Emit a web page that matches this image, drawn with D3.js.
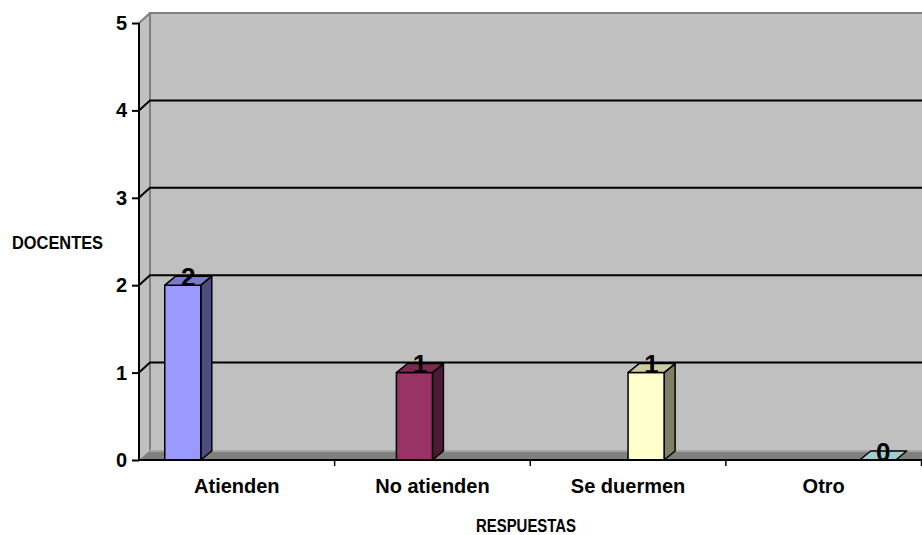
<!DOCTYPE html>
<html>
<head>
<meta charset="utf-8">
<script src="https://cdn.jsdelivr.net/npm/d3@7"></script>
<style>
  html, body { margin: 0; padding: 0; background: #ffffff; }
  svg { display: block; }
  text { font-family: "Liberation Sans", Arial, sans-serif; font-weight: bold; fill: #000; }
</style>
</head>
<body>
<svg id="chart" width="922" height="535"></svg>
<script>
const categories = ["Atienden", "No atienden", "Se duermen", "Otro"];
const values = [2, 1, 1, 0];
const yTicks = [0, 1, 2, 3, 4, 5];
const frontColors = ["#9999FF", "#993366", "#FFFFCC", "#CCFFFF"];
const sideColors = ["#4d4d80", "#4d1a33", "#808066", "#668080"];
const topColors = ["#7a7acc", "#7a2952", "#cccca3", "#a3cccc"];
const yTitle = "DOCENTES";
const xTitle = "RESPUESTAS";

const W = 922, H = 535;
const svg = d3.select("#chart");

const x0 = 139, x1 = 921.5, yBottom = 460, yTop = 23;
const DX = 11, DY = 10;      // wall depth
const bDX = 11, bDY = 9;     // bar depth

const y = d3.scaleLinear().domain([0, 5]).range([yBottom, yTop]);
const x = d3.scaleBand().domain(categories).range([x0, x1]).paddingInner(0).paddingOuter(0);
const xs = d3.scaleBand().domain(d3.range(categories.length)).range([0, x.bandwidth()])
  .paddingInner(0).paddingOuter(0.715);

// left side wall
svg.append("path")
  .attr("d", `M${x0},${yBottom} L${x0},${yTop} L${x0 + DX},${yTop - DY} L${x0 + DX},${yBottom - DY} Z`)
  .attr("fill", "#c0c0c0");
// back wall
svg.append("rect")
  .attr("x", x0 + DX).attr("y", yTop - DY)
  .attr("width", W - (x0 + DX) + 5).attr("height", yBottom - yTop)
  .attr("fill", "#c0c0c0");
// wall outline (gray)
svg.append("path")
  .attr("d", `M${x0},${yTop} L${x0 + DX},${yTop - DY} L${W + 5},${yTop - DY}`)
  .attr("fill", "none").attr("stroke", "#808080").attr("stroke-width", 2);
svg.append("line")
  .attr("x1", x0 + DX).attr("x2", x0 + DX)
  .attr("y1", yTop - DY).attr("y2", yBottom - DY)
  .attr("stroke", "#808080").attr("stroke-width", 2);

// gridlines (back wall + side wall diagonal)
yTicks.filter(t => t > 0 && t < 5).forEach(t => {
  const yy = y(t);
  svg.append("path")
    .attr("d", `M${x0},${yy} L${x0 + DX},${yy - DY} L${W + 5},${yy - DY}`)
    .attr("fill", "none").attr("stroke", "#000").attr("stroke-width", 2);
});

// floor
svg.append("path")
  .attr("d", `M${x0},${yBottom} L${x0 + DX},${yBottom - DY} L${W + 5},${yBottom - DY} L${W + 5},${yBottom} Z`)
  .attr("fill", "#808080");
svg.append("line")
  .attr("x1", x0 + DX).attr("x2", W + 5)
  .attr("y1", yBottom - DY + 1).attr("y2", yBottom - DY + 1)
  .attr("stroke", "#a6a6a6").attr("stroke-width", 2);

// bars
const bars = svg.append("g");
categories.forEach((c, i) => {
  const v = values[i];
  const bx = x(c) + xs(i);
  const bw = xs.bandwidth();
  const by = y(v);
  const b0 = y(0);
  const g = bars.append("g").attr("stroke", "#000").attr("stroke-width", 1.5).attr("stroke-linejoin", "round");
  if (v > 0) {
    g.append("path")
      .attr("d", `M${bx + bw},${b0} L${bx + bw},${by} L${bx + bw + bDX},${by - bDY} L${bx + bw + bDX},${b0 - bDY} Z`)
      .attr("fill", sideColors[i]);
    g.append("rect")
      .attr("x", bx).attr("y", by).attr("width", bw).attr("height", b0 - by)
      .attr("fill", frontColors[i]);
  }
  g.append("path")
    .attr("d", `M${bx},${by} L${bx + bDX},${by - bDY} L${bx + bw + bDX},${by - bDY} L${bx + bw},${by} Z`)
    .attr("fill", topColors[i]);
  // data label
  svg.append("text")
    .attr("x", bx + bw / 2 + bDX / 2)
    .attr("y", by + 0.5)
    .attr("text-anchor", "middle")
    .style("font-size", "26px")
    .text(v);
});

// axes lines
svg.append("line")
  .attr("x1", x0).attr("x2", x0).attr("y1", yTop).attr("y2", yBottom)
  .attr("stroke", "#000").attr("stroke-width", 2);
svg.append("line")
  .attr("x1", x0).attr("x2", W + 5).attr("y1", yBottom).attr("y2", yBottom)
  .attr("stroke", "#000").attr("stroke-width", 2);

// y axis ticks and labels
const yAxis = d3.axisLeft(y).tickValues(yTicks).tickSize(7).tickPadding(5).tickFormat(d3.format("d"));
const ya = svg.append("g").attr("transform", `translate(${x0},0)`).call(yAxis);
ya.select(".domain").remove();
ya.selectAll(".tick line").attr("stroke", "#000").attr("stroke-width", 2);
ya.selectAll(".tick text").style("font-size", "20px")
  .attr("font-family", null).attr("fill", "#000");

// x axis ticks (category boundaries) and labels
const xBounds = categories.map(c => x(c) + x.bandwidth());
svg.append("g").selectAll("line").data(xBounds).join("line")
  .attr("x1", d => d).attr("x2", d => d)
  .attr("y1", yBottom).attr("y2", yBottom + 6)
  .attr("stroke", "#000").attr("stroke-width", 1.5);
svg.append("g").selectAll("text").data(categories).join("text")
  .attr("x", d => x(d) + x.bandwidth() / 2)
  .attr("y", 493)
  .attr("text-anchor", "middle")
  .style("font-size", "20px")
  .text(d => d);

// axis titles (condensed)
svg.append("text")
  .attr("x", 12).attr("y", 249)
  .attr("textLength", 91).attr("lengthAdjust", "spacingAndGlyphs")
  .style("font-size", "19px")
  .text(yTitle);
svg.append("text")
  .attr("x", 476).attr("y", 532)
  .attr("textLength", 100).attr("lengthAdjust", "spacingAndGlyphs")
  .style("font-size", "19px")
  .text(xTitle);
</script>
</body>
</html>
